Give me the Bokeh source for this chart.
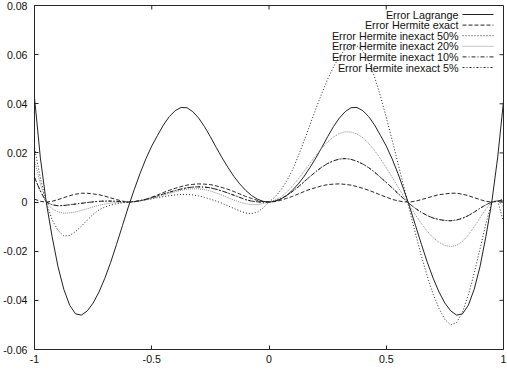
import math
from bokeh.plotting import figure
from bokeh.models import Range1d, FixedTicker, Label, Arrow
from bokeh.embed import file_html
from bokeh.resources import INLINE

# ---- data ----
x = [-1.000, -0.975, -0.950, -0.925, -0.900, -0.875, -0.850, -0.825, -0.800, -0.775,
     -0.750, -0.725, -0.700, -0.675, -0.650, -0.625, -0.600, -0.575, -0.550, -0.525,
     -0.500, -0.475, -0.450, -0.425, -0.400, -0.375, -0.350, -0.325, -0.300, -0.275,
     -0.250, -0.225, -0.200, -0.175, -0.150, -0.125, -0.100, -0.075, -0.050, -0.025,
     0.000,
     0.025, 0.050, 0.075, 0.100, 0.125, 0.150, 0.175, 0.200, 0.225, 0.250,
     0.275, 0.300, 0.325, 0.350, 0.375, 0.400, 0.425, 0.450, 0.475, 0.500,
     0.525, 0.550, 0.575, 0.600, 0.625, 0.650, 0.675, 0.700, 0.725, 0.750,
     0.775, 0.800, 0.825, 0.850, 0.875, 0.900, 0.925, 0.950, 0.975, 1.000]

err_lagrange = [
    0.0425, 0.0180, 0.0000, -0.0140, -0.0262, -0.0355, -0.0420, -0.0455, -0.0460, -0.0443,
    -0.0411, -0.0366, -0.0310, -0.0245, -0.0172, -0.0096, -0.0020, 0.0050, 0.0116, 0.0176,
    0.0228, 0.0272, 0.0314, 0.0348, 0.0372, 0.0385, 0.0384, 0.0368, 0.0342, 0.0307,
    0.0266, 0.0222, 0.0180, 0.0141, 0.0105, 0.0074, 0.0048, 0.0027, 0.0012, 0.0003,
    0.0000,
    0.0003, 0.0012, 0.0027, 0.0048, 0.0074, 0.0105, 0.0141, 0.0180, 0.0222, 0.0266,
    0.0307, 0.0342, 0.0368, 0.0384, 0.0385, 0.0372, 0.0348, 0.0314, 0.0272, 0.0228,
    0.0176, 0.0116, 0.0050, -0.0020, -0.0096, -0.0172, -0.0245, -0.0310, -0.0366, -0.0411,
    -0.0443, -0.0460, -0.0455, -0.0420, -0.0355, -0.0262, -0.0140, 0.0000, 0.0180, 0.0410]

err_hermite_exact = [
    0.0012, 0.0003, 0.0000, 0.0003, 0.0010, 0.0018, 0.0026, 0.0032, 0.0036, 0.0036,
    0.0033, 0.0030, 0.0024, 0.0017, 0.0010, 0.0004, 0.0000, 0.0001, 0.0005, 0.0011,
    0.0020, 0.0029, 0.0039, 0.0048, 0.0056, 0.0063, 0.0069, 0.0072, 0.0074, 0.0073,
    0.0071, 0.0066, 0.0059, 0.0052, 0.0043, 0.0033, 0.0023, 0.0015, 0.0007, 0.0002,
    0.0000,
    0.0002, 0.0007, 0.0015, 0.0023, 0.0033, 0.0043, 0.0052, 0.0059, 0.0066, 0.0071,
    0.0073, 0.0074, 0.0072, 0.0069, 0.0063, 0.0056, 0.0048, 0.0039, 0.0029, 0.0020,
    0.0011, 0.0005, 0.0001, 0.0000, 0.0004, 0.0010, 0.0017, 0.0024, 0.0030, 0.0033,
    0.0036, 0.0036, 0.0032, 0.0026, 0.0018, 0.0010, 0.0003, 0.0000, 0.0003, 0.0012]

err_inexact_50 = [
    0.0220, 0.0098, 0.0000, -0.0072, -0.0115, -0.0138, -0.0136, -0.0120, -0.0098, -0.0073,
    -0.0050, -0.0032, -0.0020, -0.0012, -0.0007, -0.0003, -0.0001, 0.0002, 0.0005, 0.0009,
    0.0013, 0.0018, 0.0022, 0.0026, 0.0029, 0.0031, 0.0031, 0.0029, 0.0025, 0.0019,
    0.0012, 0.0004, -0.0005, -0.0015, -0.0026, -0.0036, -0.0044, -0.0047, -0.0041, -0.0024,
    0.0000,
    0.0020, 0.0048, 0.0085, 0.0130, 0.0188, 0.0250, 0.0315, 0.0380, 0.0442, 0.0500,
    0.0550, 0.0592, 0.0622, 0.0638, 0.0636, 0.0615, 0.0572, 0.0510, 0.0432, 0.0345,
    0.0253, 0.0158, 0.0062, -0.0035, -0.0130, -0.0220, -0.0302, -0.0375, -0.0433, -0.0478,
    -0.0500, -0.0490, -0.0448, -0.0378, -0.0290, -0.0190, -0.0088, 0.0000, 0.0005, -0.0080]

err_inexact_20 = [
    0.0170, 0.0075, 0.0000, -0.0028, -0.0040, -0.0045, -0.0044, -0.0040, -0.0034, -0.0027,
    -0.0020, -0.0013, -0.0008, -0.0004, -0.0002, -0.0001, 0.0000, 0.0002, 0.0005, 0.0009,
    0.0014, 0.0021, 0.0028, 0.0035, 0.0042, 0.0048, 0.0052, 0.0054, 0.0054, 0.0051,
    0.0045, 0.0037, 0.0028, 0.0018, 0.0008, 0.0000, -0.0007, -0.0010, -0.0010, -0.0006,
    0.0000,
    0.0008, 0.0020, 0.0040, 0.0065, 0.0094, 0.0125, 0.0158, 0.0190, 0.0219, 0.0245,
    0.0265, 0.0279, 0.0286, 0.0285, 0.0277, 0.0262, 0.0239, 0.0210, 0.0177, 0.0140,
    0.0101, 0.0062, 0.0022, -0.0016, -0.0053, -0.0088, -0.0119, -0.0145, -0.0164, -0.0177,
    -0.0181, -0.0176, -0.0160, -0.0134, -0.0101, -0.0064, -0.0028, 0.0000, 0.0008, -0.0020]

err_inexact_10 = [
    0.0100, 0.0045, 0.0000, -0.0011, -0.0015, -0.0014, -0.0011, -0.0008, -0.0005, -0.0002,
    0.0001, 0.0003, 0.0004, 0.0004, 0.0003, 0.0001, 0.0000, 0.0002, 0.0006, 0.0011,
    0.0018, 0.0025, 0.0033, 0.0040, 0.0047, 0.0053, 0.0058, 0.0061, 0.0062, 0.0061,
    0.0058, 0.0052, 0.0045, 0.0037, 0.0028, 0.0019, 0.0010, 0.0004, 0.0001, 0.0000,
    0.0000,
    0.0004, 0.0013, 0.0026, 0.0043, 0.0062, 0.0083, 0.0104, 0.0124, 0.0142, 0.0157,
    0.0168, 0.0175, 0.0177, 0.0174, 0.0166, 0.0155, 0.0140, 0.0122, 0.0101, 0.0080,
    0.0058, 0.0035, 0.0013, -0.0008, -0.0026, -0.0042, -0.0055, -0.0065, -0.0071, -0.0075,
    -0.0076, -0.0073, -0.0066, -0.0055, -0.0041, -0.0025, -0.0011, 0.0000, 0.0004, 0.0005]

# the 5% curve lies on top of the 10% curve in the reference
err_inexact_5 = [
    0.0100, 0.0045, 0.0000, -0.0011, -0.0015, -0.0014, -0.0011, -0.0008, -0.0005, -0.0002,
    0.0001, 0.0003, 0.0004, 0.0004, 0.0003, 0.0001, 0.0000, 0.0002, 0.0006, 0.0011,
    0.0018, 0.0025, 0.0033, 0.0040, 0.0047, 0.0053, 0.0058, 0.0061, 0.0062, 0.0061,
    0.0058, 0.0052, 0.0045, 0.0037, 0.0028, 0.0019, 0.0010, 0.0004, 0.0001, 0.0000,
    0.0000,
    0.0004, 0.0013, 0.0026, 0.0043, 0.0062, 0.0083, 0.0104, 0.0124, 0.0142, 0.0157,
    0.0168, 0.0175, 0.0177, 0.0174, 0.0166, 0.0155, 0.0140, 0.0122, 0.0101, 0.0080,
    0.0058, 0.0035, 0.0013, -0.0008, -0.0026, -0.0042, -0.0055, -0.0065, -0.0071, -0.0075,
    -0.0076, -0.0073, -0.0066, -0.0055, -0.0041, -0.0025, -0.0011, 0.0000, 0.0004, 0.0005]

series_names = ["Error Lagrange", "Error Hermite exact", "Error Hermite inexact 50%",
                "Error Hermite inexact 20%", "Error Hermite inexact 10%", "Error Hermite inexact 5%"]

x_ticks = [-1, -0.5, 0, 0.5, 1]
x_tick_labels = ["-1", "-0.5", "0", "0.5", "1"]
y_ticks = [-0.06, -0.04, -0.02, 0, 0.02, 0.04, 0.06, 0.08]
y_tick_labels = ["-0.06", "-0.04", "-0.02", "0", "0.02", "0.04", "0.06", "0.08"]

# ---- styles ----
FONT = "Liberation Sans"
FS_TICK = "10.6px"
FS_LEG = "10.8px"
INK = "#262626"
styles = [
    dict(line_color="#222222", line_dash="solid", line_width=1.0),
    dict(line_color=INK, line_dash="4 2", line_width=1.0),
    dict(line_color=INK, line_dash="1 2", line_width=1.0),
    dict(line_color="#8c8c8c", line_dash="1 1", line_width=1.0),
    dict(line_color=INK, line_dash="4 2 1 2", line_width=1.0),
    dict(line_color=INK, line_dash="2 2 1 2", line_width=1.0),
]
all_series = [err_lagrange, err_hermite_exact, err_inexact_50, err_inexact_20,
              err_inexact_10, err_inexact_5]

x_lo, x_hi = x_ticks[0], x_ticks[-1]
y_lo, y_hi = y_ticks[0], y_ticks[-1]

p = figure(width=507, height=373, output_backend="svg", toolbar_location=None,
           x_range=Range1d(x_lo, x_hi), y_range=Range1d(y_lo, y_hi),
           min_border_left=31, min_border_right=4, min_border_top=5, min_border_bottom=24)
p.xgrid.visible = False
p.ygrid.visible = False
p.outline_line_color = INK
p.outline_line_width = 1
p.background_fill_color = "white"
p.border_fill_color = "white"

for ys, st in zip(all_series, styles):
    p.line(x, ys, **st)

def style_axis(ax, ticks, labels, standoff):
    ax.ticker = FixedTicker(ticks=ticks)
    ax.major_label_overrides = {t: l for t, l in zip(ticks, labels)}
    ax.major_tick_in = 4
    ax.major_tick_out = 0
    ax.minor_tick_line_color = None
    ax.major_tick_line_color = INK
    ax.axis_line_color = INK
    ax.major_label_text_font = FONT
    ax.major_label_text_font_size = FS_TICK
    ax.major_label_text_color = "#111111"
    ax.major_label_standoff = standoff

style_axis(p.xaxis[0], x_ticks, x_tick_labels, 5)
style_axis(p.yaxis[0], y_ticks, y_tick_labels, 7)

# mirrored inward ticks on the top and right edges (gnuplot style)
p.ray(x=x_ticks, y=[y_hi] * len(x_ticks), length=4, length_units="screen",
      angle=-math.pi / 2, line_color=INK, line_width=1)
p.ray(x=[x_hi] * len(y_ticks), y=y_ticks, length=4, length_units="screen",
      angle=math.pi, line_color=INK, line_width=1)

# ---- key (gnuplot style): text right-aligned, line sample to its right ----
# positions in screen pixels relative to the plot frame
KEY_TEXT_X = 424
KEY_SAMPLE_X0, KEY_SAMPLE_X1 = 428, 459
KEY_TOP_Y, KEY_ROW = 335, 10.6
for i, (name, st) in enumerate(zip(series_names, styles)):
    yy = KEY_TOP_Y - KEY_ROW * i
    p.add_layout(Label(x=KEY_TEXT_X, y=yy, x_units="screen", y_units="screen", text=name,
                       text_align="right", text_baseline="middle", text_font=FONT,
                       text_font_size=FS_LEG, text_color="#111111"))
    p.add_layout(Arrow(end=None, start=None, x_start=KEY_SAMPLE_X0, y_start=yy,
                       x_end=KEY_SAMPLE_X1, y_end=yy, start_units="screen", end_units="screen",
                       line_color=st["line_color"], line_dash=st["line_dash"],
                       line_width=st["line_width"]))

open("out.html", "w").write(file_html(p, INLINE))
